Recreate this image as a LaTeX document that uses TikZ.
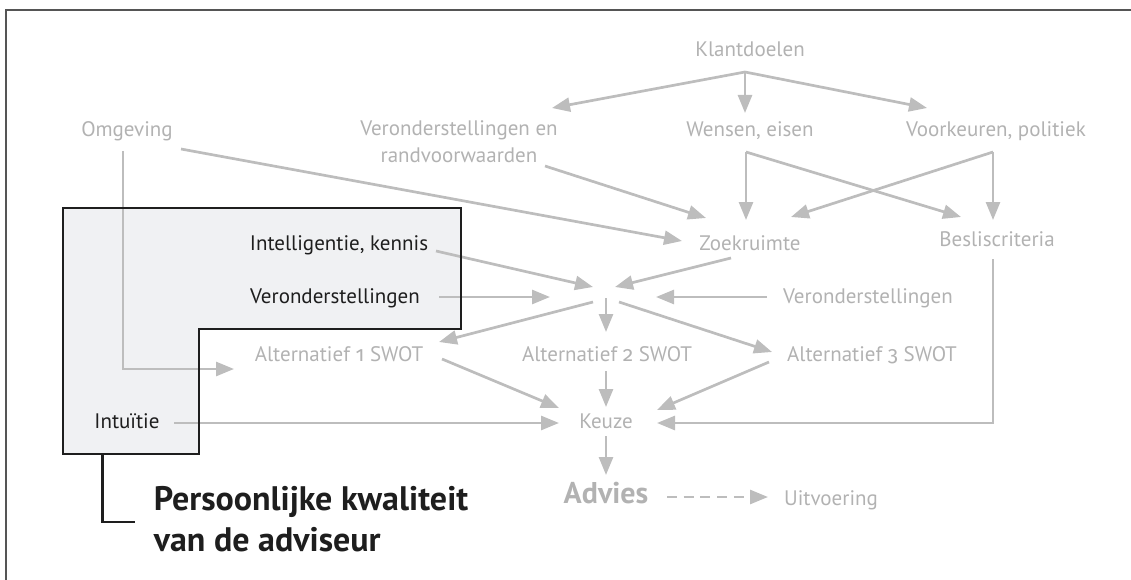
\documentclass[tikz,border=0pt]{standalone}
\usepackage{fontspec}
\setmainfont{PT Sans}
\newfontfamily\figs[Numbers=OldStyle]{Fira Sans}
\usetikzlibrary{arrows.meta}
\definecolor{lightline}{HTML}{BDBDBD}
\definecolor{lighttext}{HTML}{B2B2B2}
\definecolor{darktext}{HTML}{1E1E1E}
\definecolor{boxfill}{HTML}{F0F1F3}
\definecolor{framegrey}{HTML}{555555}
\tikzset{
  lbl/.style={inner sep=0pt, anchor=base, text=lighttext, font=\fontsize{21}{27}\selectfont},
  dlbl/.style={lbl, text=darktext},
  flow/.style={draw=lightline, line width=2.7pt, -{Triangle[length=18pt,width=14pt]}},
}
\begin{document}
\begin{tikzpicture}[x=1pt,y=-1pt]
\useasboundingbox (0,0) rectangle (1131,580);
% page frame (top and left edges)
\draw[framegrey, line width=2pt] (6,580) -- (6,10) -- (1131,10);

% personal-quality block
\fill[boxfill] (63,208) -- (461,208) -- (461,329) -- (199,329) -- (199,454) -- (63,454) -- cycle;

% labels
\node[lbl] (kd) at (750,57) {Klantdoelen};
\node[lbl] (om) at (127,137) {Omgeving};
\node[lbl, align=center] (vr) at (459,163) {Veronderstellingen en\\randvoorwaarden};
\node[lbl] (we) at (750,137) {Wensen, eisen};
\node[lbl] (vk) at (996,137) {Voorkeuren, politiek};
\node[lbl] (zk) at (750,250) {Zoekruimte};
\node[lbl] (bc) at (997,246) {Besliscriteria};
\node[dlbl] (ik) at (339,250) {Intelligentie, kennis};
\node[dlbl] (vl) at (335,303) {Veronderstellingen};
\node[lbl] (vrr) at (868,303) {Veronderstellingen};
\node[lbl] (a1) at (339,361) {Alternatief {\figs 1} SWOT};
\node[lbl] (a2) at (607,361) {Alternatief {\figs 2} SWOT};
\node[lbl] (a3) at (872,361) {Alternatief {\figs 3} SWOT};
\node[lbl] (ke) at (606,428) {Keuze};
\node[dlbl] (in) at (127,428) {Intuïtie};
\node[lbl, font=\bfseries\fontsize{30}{36}\selectfont] (ad) at (606,503) {Advies};
\node[lbl] (ui) at (831,505) {Uitvoering};
\node[dlbl, anchor=base west, align=left, font=\bfseries\fontsize{34}{41}\selectfont] (pk) at (153.6,551) {Persoonlijke kwaliteit\\van de adviseur};

% connector end points
\coordinate (kdo) at (745,72);
\coordinate (vrt) at (552,108);
\coordinate (wet) at (745,113);
\coordinate (vkt) at (927,108);
\coordinate (omo) at (181,149);
\coordinate (omd) at (123,151);
\coordinate (vro) at (545,166);
\coordinate (weo) at (746,152);
\coordinate (vko) at (993,152);
\coordinate (zkt1) at (682,241);
\coordinate (zkt2) at (706,218);
\coordinate (zkt3) at (746,220);
\coordinate (zkt4) at (791,217);
\coordinate (bct1) at (961,217);
\coordinate (bct2) at (993,220);
\coordinate (zko) at (731,258);
\coordinate (bco) at (993,259);
\coordinate (iko) at (436,251);
\coordinate (vlo) at (439,297);
\coordinate (vrro) at (767,297);
\coordinate (hub1) at (593,287);
\coordinate (hub2) at (615,287);
\coordinate (hub3) at (550,297);
\coordinate (hub4) at (656,297);
\coordinate (hubd) at (606,298);
\coordinate (hubl) at (593,302);
\coordinate (hubr) at (619,302);
\coordinate (a1t) at (439,342);
\coordinate (a1l) at (234,369);
\coordinate (a2t) at (606,332);
\coordinate (a3t) at (772,352);
\coordinate (a1o) at (442,359);
\coordinate (a2o) at (606,371);
\coordinate (a3o) at (769,362);
\coordinate (ket1) at (559,408);
\coordinate (ket2) at (606,407);
\coordinate (ket3) at (657,410);
\coordinate (ket4) at (657,423);
\coordinate (ket5) at (559,423);
\coordinate (ino) at (174,423);
\coordinate (keo) at (606,436);
\coordinate (adt) at (606,475);
\coordinate (ado) at (667,497);
\coordinate (uit) at (768,497);

% connectors
\draw[flow] (kdo) -- (vrt);
\draw[flow] (kdo) -- (wet);
\draw[flow] (kdo) -- (vkt);
\draw[flow] (omo) -- (zkt1);
\draw[flow] (vro) -- (zkt2);
\draw[flow] (weo) -- (zkt3);
\draw[flow] (weo) -- (bct1);
\draw[flow] (vko) -- (zkt4);
\draw[flow] (vko) -- (bct2);
\draw[flow] (zko) -- (hub2);
\draw[flow] (iko) -- (hub1);
\draw[flow] (vlo) -- (hub3);
\draw[flow] (vrro) -- (hub4);
\draw[flow] (hubl) -- (a1t);
\draw[flow] (hubd) -- (a2t);
\draw[flow] (hubr) -- (a3t);
\draw[flow] (omd) |- (a1l);
\draw[flow] (a1o) -- (ket1);
\draw[flow] (a2o) -- (ket2);
\draw[flow] (a3o) -- (ket3);
\draw[flow] (bco) |- (ket4);
\draw[flow] (ino) -- (ket5);
\draw[flow] (keo) -- (adt);
\draw[flow, dash pattern=on 10pt off 6.7pt] (ado) -- (uit);

% outline of the personal-quality block and its leader
\draw[darktext, line width=2.6pt, line join=miter] (63,208) -- (461,208) -- (461,329) -- (199,329) -- (199,454) -- (63,454) -- cycle;
\coordinate (ldr) at (102.5,454);
\coordinate (ldre) at (135,522);
\draw[darktext, line width=2.6pt] (ldr) |- (ldre);
\end{tikzpicture}
\end{document}
